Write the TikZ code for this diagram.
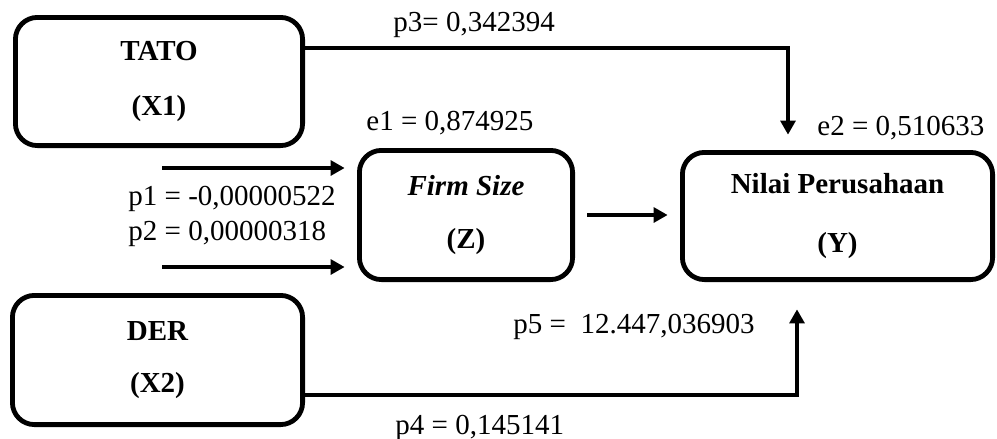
\documentclass[tikz,border=0pt]{standalone}
\usepackage{fontspec}
\setmainfont{Liberation Serif}
\usepackage{tikz}
\usetikzlibrary{arrows.meta, positioning}
\newcommand{\labelsize}{\fontsize{14.5}{17}\selectfont}
\tikzstyle{varBox} = [
                rectangle,
                rounded corners = 11pt,
                line width = 2.4pt,
                draw = black,
                align = center,
                font = \labelsize\bfseries
            ]
\tikzstyle{arrow} = [line width=1.6pt, -{Triangle[length=7pt, width=7.5pt]}]
\tikzstyle{coef} = [anchor=base west, inner sep=0pt, font=\labelsize]

\begin{document}
\begin{tikzpicture}[x=0.5pt, y=-0.5pt]
                            \useasboundingbox (0,0) rectangle (997,439);
                            % variables
                            \node (X1) [varBox, minimum width=143.6pt, minimum height=64.1pt] at (159,81.5) {TATO\\[10.5pt](X1)};
                            \node (X2) [varBox, minimum width=145.1pt, minimum height=64.6pt] at (157.5,360) {DER\\[9pt](X2)};
                            \node (Z) [varBox, minimum width=106.6pt, minimum height=64.6pt] at (466,215) {\textit{Firm Size}\\[9.5pt](Z)};
                            \node (Y) [varBox, minimum width=155.1pt, minimum height=63.6pt] at (837.5,216) {Nilai Perusahaan\\[12.5pt](Y)};
                            % loose ends of the two arrows into Z
                            \coordinate (in1) at (162,168);
                            \coordinate (in2) at (162,267);
                            % paths
                            \draw [arrow, shorten >=6.2pt] (in1) -- (in1 -| Z.west);
                            \draw [arrow, shorten >=6.2pt] (in2) -- (in2 -| Z.west);
                            \draw [arrow, shorten <=6.2pt, shorten >=6.2pt] (Z.east) -- (Z.east -| Y.west);
                            \draw [arrow, shorten >=7.7pt] ([yshift=16.75pt]X1.east) -| ([xshift=-24.75pt]Y.north);
                            \draw [arrow, shorten >=13.7pt] ([yshift=-17.5pt]X2.east) -| ([xshift=-20.25pt]Y.south);
                            % coefficients
                            \node (p3) [coef] at (393,32) {p3= 0,342394};
                            \node (e1) [coef] at (366,130) {e1 = 0,874925};
                            \node (e2) [coef] at (817,135) {e2 = 0,510633};
                            \node (p1) [coef] at (128,205) {p1 = -0,00000522};
                            \node (p2) [coef] at (128,240) {p2 = 0,00000318};
                            \node (p5) [coef] at (513,333) {p5 = \ 12.447,036903};
                            \node (p4) [coef] at (395,434) {p4 = 0,145141};
                        \end{tikzpicture}
\end{document}
